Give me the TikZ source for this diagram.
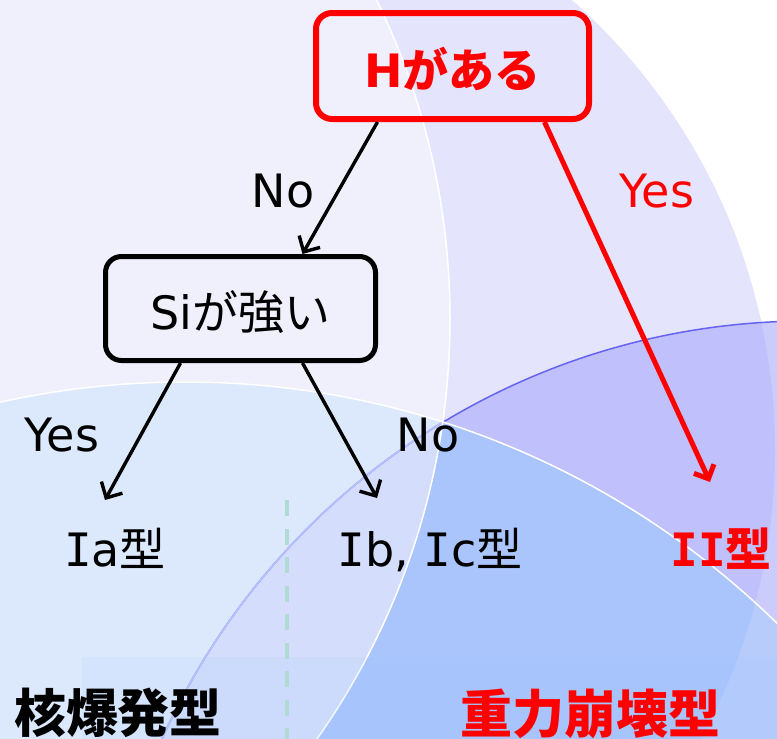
\documentclass[tikz,border=0pt]{standalone}
\usepackage{fontspec}
\setmainfont{DejaVu Sans}
\newfontfamily\jpf{Noto Sans CJK JP}
\newfontfamily\monof{DejaVu Sans Mono}
\usetikzlibrary{arrows.meta}
\newcommand\jtxt[1]{{\jpf #1}}
\newcommand\serI{{\monof I}}
\definecolor{lavL}{RGB}{240,240,253}
\definecolor{lav}{RGB}{228,228,252}
\definecolor{purp}{RGB}{192,192,252}
\definecolor{purpout}{RGB}{204,204,252}
\definecolor{bluA}{RGB}{220,232,252}
\definecolor{bluB}{RGB}{212,222,252}
\definecolor{bluC}{RGB}{170,196,252}
\definecolor{bluD}{RGB}{184,204,252}
\definecolor{pline}{RGB}{100,100,240}
\definecolor{plinef}{RGB}{182,192,252}
\definecolor{dashc}{RGB}{178,218,212}
\definecolor{bandc}{RGB}{150,200,255}
\begin{document}
\begin{tikzpicture}[x=1pt,y=-1pt,
  txt/.style={font=\fontsize{46}{50}\selectfont, inner sep=0pt, anchor=base},
  bigtxt/.style={font=\fontsize{52}{56}\selectfont\bfseries, inner sep=0pt, anchor=base},
  decbox/.style={rounded corners=16pt, inner sep=0pt, font=\fontsize{46}{50}\selectfont},
  arr/.style={line width=3.4pt, -{Straight Barb[length=12pt,width=24pt]}},
  redarr/.style={line width=5pt, red, -{Straight Barb[length=11pt,width=22pt]}}
]
\useasboundingbox (0,0) rectangle (777,739);
% background
\fill[white] (0,0) rectangle (777,739);
\fill[lav] (175,450) circle[radius=600pt];
\fill[purpout] (808,1029) circle[radius=708pt];
\begin{scope}
  \clip (175,450) circle[radius=600pt];
  \fill[purp] (808,1029) circle[radius=708pt];
\end{scope}
\fill[lavL] (-279,319) circle[radius=729pt];
\fill[bluA] (185,1229) circle[radius=847pt];
\begin{scope}
  \clip (808,1029) circle[radius=708pt];
  \fill[bluC] (185,1229) circle[radius=847pt];
  \begin{scope}
    \clip (-279,319) circle[radius=729pt];
    \fill[bluB] (185,1229) circle[radius=847pt];
  \end{scope}
  \begin{scope}
    \clip (185,1229) circle[radius=847pt];
    \fill[bluD, even odd rule] (-100,-100) rectangle (900,900) (175,450) circle[radius=600pt];
  \end{scope}
\end{scope}
% outlines
\draw[pline, line width=1.5pt] (808,1029) circle[radius=708pt];
\begin{scope}
  \clip (185,1229) circle[radius=847pt];
  \draw[plinef, line width=1.8pt] (808,1029) circle[radius=708pt];
\end{scope}
\draw[white, line width=1.5pt] (-279,319) circle[radius=729pt];
\draw[white, line width=1.5pt] (185,1229) circle[radius=847pt];
% bottom band
\fill[bandc, fill opacity=0.12] (82,657) rectangle (777,739);
% dashed divider
\coordinate (dtop) at (287,500);
\coordinate (dbot) at (287,739);
\draw[dashc, line width=4pt, dash pattern=on 16pt off 12.5pt] (dtop) -- (dbot);

% decision boxes
\node[decbox, draw=red, line width=6pt, minimum width=273pt, minimum height=106pt,
      text=red, font=\fontsize{46}{50}\selectfont\bfseries, text height=50pt, text depth=8pt]
      (hbox) at (452.5,66) {H\jtxt{がある}};
\node[decbox, draw=black, line width=5pt, minimum width=270pt, minimum height=104pt,
      text height=48pt, text depth=7pt]
      (si) at (240.5,308.5) {Si\jtxt{が強い}};

% outcomes
\node[txt] (ia) at (115,566) {\serI a\jtxt{型}};
\node[txt] (ib) at (430,566) {\serI b, \serI c\jtxt{型}};
\node[txt, text=red, font=\fontsize{46}{50}\selectfont\bfseries] (two) at (721,566) {\serI\serI\jtxt{型}};

% edge labels
\node[txt] (lno1) at (283,207) {No};
\node[txt, text=red] (lyes1) at (657,207) {Yes};
\node[txt] (lyes2) at (62,451) {Yes};
\node[txt] (lno2) at (428,451) {No};

% arrows
\draw[arr] ([xshift=-75pt]hbox.south) -- ([xshift=62pt]si.north);
\draw[arr] ([xshift=-60pt]si.south) -- ([xshift=-10pt,yshift=66pt]ia.base);
\draw[arr] ([xshift=62pt]si.south) -- ([xshift=-53pt,yshift=68pt]ib.base);
\draw[redarr] ([xshift=92pt]hbox.south) -- ([xshift=-11pt,yshift=84pt]two.base);

% category labels
\node[bigtxt] (nuc) at (118,732) {\jtxt{核爆発型}};
\node[bigtxt, text=red] (grav) at (590,733) {\jtxt{重力崩壊型}};
\end{tikzpicture}
\end{document}
